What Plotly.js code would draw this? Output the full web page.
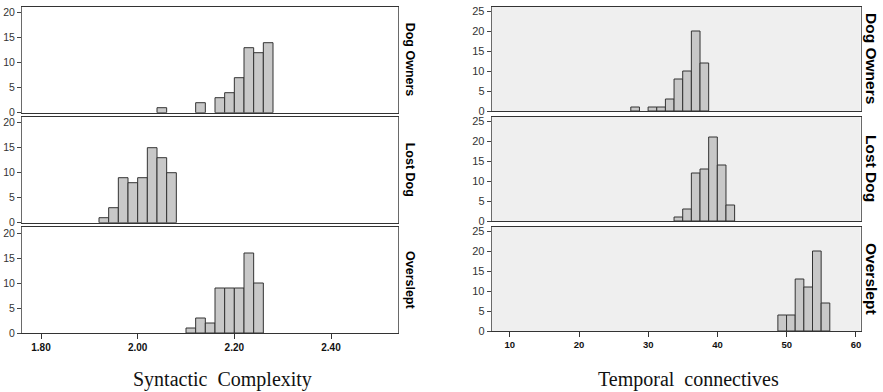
<!DOCTYPE html>
<html>
<head>
<meta charset="utf-8">
<script src="https://cdn.plot.ly/plotly-3.0.1.min.js"></script>
<style>html,body{margin:0;padding:0;background:#fff;}#chart{width:883px;height:392px;}</style>
</head>
<body>
<div id="chart"></div>
<script>
// ---- Data ----
const groups = ["Dog Owners", "Lost Dog", "Overslept"];

// Syntactic Complexity: bin centres and counts (bin width 0.02)
const scDogOwnersX = [2.05, 2.13, 2.17, 2.19, 2.21, 2.23, 2.25, 2.27];
const scDogOwnersY = [1, 2, 3, 4, 7, 13, 12, 14];
const scLostDogX   = [1.93, 1.95, 1.97, 1.99, 2.01, 2.03, 2.05, 2.07];
const scLostDogY   = [1, 3, 9, 8, 9, 15, 13, 10];
const scOversleptX = [2.11, 2.13, 2.15, 2.17, 2.19, 2.21, 2.23, 2.25];
const scOversleptY = [1, 3, 2, 9, 9, 9, 16, 10];
const scBinWidth = 0.02;
const scTickVals = [1.8, 2.0, 2.2, 2.4];
const scTickText = ["1.80", "2.00", "2.20", "2.40"];

// Temporal connectives: bin centres and counts (bin width 1.25)
const tcDogOwnersX = [28.1, 30.6, 31.85, 33.1, 34.35, 35.6, 36.85, 38.1];
const tcDogOwnersY = [1, 1, 1, 3, 8, 10, 20, 12];
const tcLostDogX   = [34.35, 35.6, 36.85, 38.1, 39.35, 40.6, 41.85];
const tcLostDogY   = [1, 3, 12, 13, 21, 14, 4];
const tcOversleptX = [49.35, 50.6, 51.85, 53.1, 54.35, 55.6];
const tcOversleptY = [4, 4, 13, 11, 20, 7];
const tcBinWidth = 1.25;
const tcTickVals = [10, 20, 30, 40, 50, 60];
const tcTickText = ["10", "20", "30", "40", "50", "60"];

const scYTicks = [0, 5, 10, 15, 20];
const tcYTicks = [0, 5, 10, 15, 20, 25];

// ---- Traces ----
const barFill = "#c8c8c8", barLine = "#333333";
function bars(x, y, w, xa, ya) {
  return {type: "bar", x: x, y: y, width: w, xaxis: xa, yaxis: ya,
    marker: {color: barFill, line: {color: barLine, width: 1}},
    showlegend: false, hoverinfo: "skip"};
}
const data = [
  bars(scDogOwnersX, scDogOwnersY, scBinWidth, "x", "y"),
  bars(scLostDogX, scLostDogY, scBinWidth, "x2", "y2"),
  bars(scOversleptX, scOversleptY, scBinWidth, "x3", "y3"),
  bars(tcDogOwnersX, tcDogOwnersY, tcBinWidth, "x4", "y4"),
  bars(tcLostDogX, tcLostDogY, tcBinWidth, "x5", "y5"),
  bars(tcOversleptX, tcOversleptY, tcBinWidth, "x6", "y6")
];

// ---- Layout ----
const W = 883, H = 392;
const leftDom = [22 / W, 398 / W];
const rightDom = [491.7 / W, 860.5 / W];
const leftRange = [1.7607, 2.5386];
const rightRange = [7.38, 60.66];
const leftBottoms = [112.7, 222.7, 333];
const leftH = 106, leftYMax = 21.2;
const rightBottoms = [111, 221, 331];
const rightH = 104.5, rightYMax = 26.125;

function ydom(bottom, h) { return [1 - bottom / H, 1 - (bottom - h) / H]; }

const frameColor = "#6a6a6a", axisColor = "#333";
function xAxis(dom, range, anchor, bottom, tv, tt, fs) {
  const a = {domain: dom, range: range, anchor: anchor, showgrid: false, zeroline: false,
    showline: true, mirror: true, linecolor: axisColor, linewidth: 1, fixedrange: true};
  if (bottom) {
    Object.assign(a, {tickmode: "array", tickvals: tv, ticktext: tt, ticks: "outside",
      ticklen: 5, tickcolor: axisColor, tickwidth: 1,
      tickfont: {family: "Arial, Liberation Sans, sans-serif", size: fs, color: "#111", weight: "bold"}});
  } else {
    Object.assign(a, {showticklabels: false, ticks: ""});
  }
  return a;
}
function yAxis(dom, ymax, anchor, tv, fs) {
  return {domain: dom, range: [0, ymax], anchor: anchor, showgrid: false, zeroline: false,
    showline: true, mirror: true, linecolor: frameColor, linewidth: 1,
    tickmode: "array", tickvals: tv, ticks: "outside", ticklen: 4, tickcolor: "#444",
    tickfont: {family: "Arial, Liberation Sans, sans-serif", size: fs, color: "#333"}, fixedrange: true};
}

const layout = {
  width: W, height: H, margin: {l: 0, r: 0, t: 0, b: 0},
  paper_bgcolor: "#fff", plot_bgcolor: "#fff", bargap: 0,
  xaxis:  xAxis(leftDom, leftRange, "y", false),
  xaxis2: xAxis(leftDom, leftRange, "y2", false),
  xaxis3: xAxis(leftDom, leftRange, "y3", true, scTickVals, scTickText, 10),
  xaxis4: xAxis(rightDom, rightRange, "y4", false),
  xaxis5: xAxis(rightDom, rightRange, "y5", false),
  xaxis6: xAxis(rightDom, rightRange, "y6", true, tcTickVals, tcTickText, 9.5),
  yaxis:  yAxis(ydom(leftBottoms[0], leftH), leftYMax, "x", scYTicks, 10.5),
  yaxis2: yAxis(ydom(leftBottoms[1], leftH), leftYMax, "x2", scYTicks, 10.5),
  yaxis3: yAxis(ydom(leftBottoms[2], leftH), leftYMax, "x3", scYTicks, 10.5),
  yaxis4: yAxis(ydom(rightBottoms[0], rightH), rightYMax, "x4", tcYTicks, 11),
  yaxis5: yAxis(ydom(rightBottoms[1], rightH), rightYMax, "x5", tcYTicks, 11),
  yaxis6: yAxis(ydom(rightBottoms[2], rightH), rightYMax, "x6", tcYTicks, 11),
  shapes: [4, 5, 6].map(i => ({type: "rect", xref: "x" + i + " domain", yref: "y" + i + " domain",
    x0: 0, x1: 1, y0: 0, y1: 1, fillcolor: "#efefef", line: {width: 0}, layer: "below"})),
  annotations: []
};

groups.forEach((g, i) => {
  const ld = ydom(leftBottoms[i], leftH);
  layout.annotations.push({text: g, xref: "paper", yref: "paper", x: 410 / W, y: (ld[0] + ld[1]) / 2,
    xanchor: "center", yanchor: "middle", textangle: 90, showarrow: false,
    font: {family: "Arial, Liberation Sans, sans-serif", size: 12.5, color: "#000", weight: "bold"}});
  const rd = ydom(rightBottoms[i], rightH);
  layout.annotations.push({text: g, xref: "paper", yref: "paper", x: 871.7 / W, y: (rd[0] + rd[1]) / 2,
    xanchor: "center", yanchor: "middle", textangle: 90, showarrow: false,
    font: {family: "Arial, Liberation Sans, sans-serif", size: 15.5, color: "#000", weight: "bold"}});
});
layout.annotations.push({text: "Syntactic\u00a0 Complexity", xref: "paper", yref: "paper",
  x: 222 / W, y: 1 - 379 / H, xanchor: "center", yanchor: "middle", showarrow: false,
  font: {family: "Liberation Serif, Times New Roman, serif", size: 20, color: "#111"}});
layout.annotations.push({text: "Temporal\u00a0 connectives", xref: "paper", yref: "paper",
  x: 688 / W, y: 1 - 379 / H, xanchor: "center", yanchor: "middle", showarrow: false,
  font: {family: "Liberation Serif, Times New Roman, serif", size: 20, color: "#111"}});

Plotly.newPlot("chart", data, layout, {displayModeBar: false, staticPlot: true});
</script>
</body>
</html>
